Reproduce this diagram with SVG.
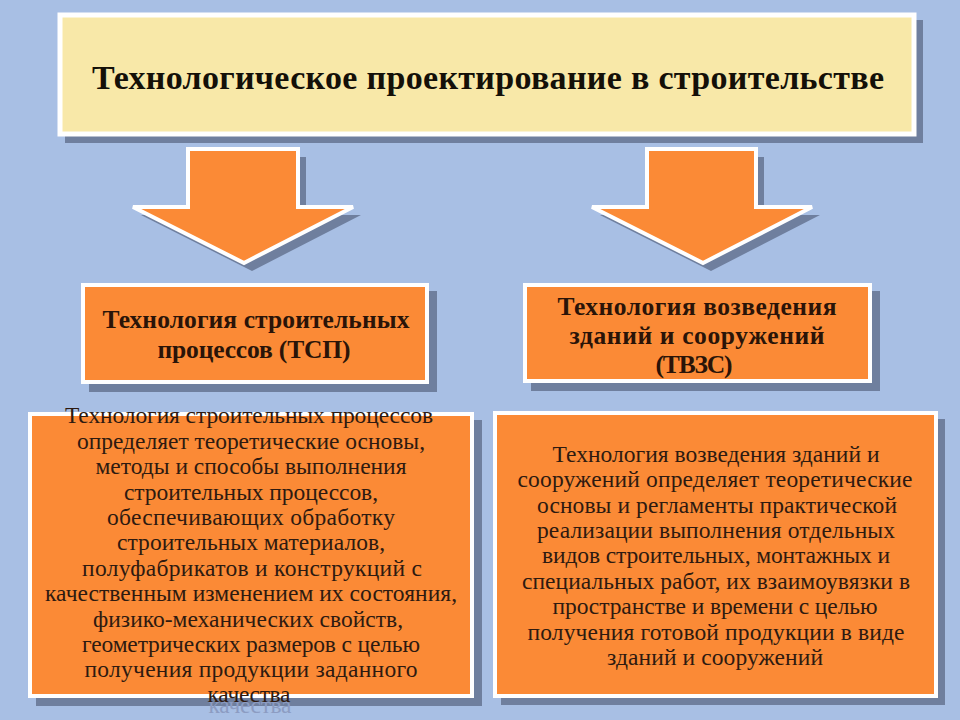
<svg xmlns="http://www.w3.org/2000/svg" width="960" height="720" viewBox="0 0 960 720">
<style>
.sh{fill:#6F7F9E}
.box{fill:#FB8A36;stroke:#FFFFFF;stroke-width:4}
.title{fill:#F8E8A8;stroke:#FFFFFF;stroke-width:5}
.t{font-family:"Liberation Serif",serif;text-anchor:middle}
.h{font-size:34px;font-weight:bold;fill:#141008}
.m{font-size:25.5px;font-weight:bold;fill:#2A1408}
.b{font-size:23.5px;fill:#2E1A10}
</style>
<rect width="960" height="720" fill="#A8BFE4"/>
<g id="title">
<rect class="sh" x="65" y="20" width="858" height="123"/>
<rect class="title" x="60" y="15" width="854" height="119"/>
<text class="t h" x="488" y="89" textLength="792">Технологическое проектирование в строительстве</text>
</g>
<g id="connectors">
<polygon class="sh" points="196,157 306,157 306,215 361,215 252,271 141,215 196,215"/>
<polygon fill="#FB8A36" stroke="#FFFFFF" stroke-width="4" stroke-linejoin="miter" points="188,149 298,149 298,207 353,207 244,263 133,207 188,207"/>
<polygon class="sh" points="655,157 764,157 764,215 820,215 711,271 600,215 655,215"/>
<polygon fill="#FB8A36" stroke="#FFFFFF" stroke-width="4" stroke-linejoin="miter" points="647,149 756,149 756,207 812,207 703,263 592,207 647,207"/>
</g>
<g id="tsp">
<rect class="sh" x="89" y="291" width="348" height="101"/>
<rect class="box" x="83" y="285" width="344" height="97"/>
<text class="t m" x="256" y="328" textLength="307">Технология строительных</text>
<text class="t m" x="254" y="358" textLength="193">процессов (ТСП)</text>
</g>
<g id="tvzs">
<rect class="sh" x="531" y="291" width="349" height="100"/>
<rect class="box" x="525" y="285" width="345" height="96"/>
<text class="t m" x="697" y="315" textLength="279">Технология возведения</text>
<text class="t m" x="697" y="344" textLength="255">зданий и сооружений</text>
<text class="t m" x="694" y="373" textLength="77">(ТВЗС)</text>
</g>
<g id="tsp-desc">
<rect class="sh" x="36" y="420" width="446" height="286"/>
<rect class="box" x="30" y="414" width="442" height="282"/>
<text class="t b" x="250" y="713" style="fill:#8C9CC2" textLength="83">качества</text>
<text class="t b" x="249" y="423" textLength="368">Технология строительных процессов</text>
<text class="t b" x="251" y="449" textLength="348">определяет теоретические основы,</text>
<text class="t b" x="251" y="474" textLength="311">методы и способы выполнения</text>
<text class="t b" x="251" y="500" textLength="254">строительных процессов,</text>
<text class="t b" x="251" y="525" textLength="288">обеспечивающих  обработку</text>
<text class="t b" x="251" y="550" textLength="268">строительных материалов,</text>
<text class="t b" x="252" y="576" textLength="340">полуфабрикатов и конструкций с</text>
<text class="t b" x="251" y="601" textLength="412">качественным изменением их состояния,</text>
<text class="t b" x="248" y="627" textLength="310">физико-механических свойств,</text>
<text class="t b" x="251" y="652" textLength="338">геометрических размеров с целью</text>
<text class="t b" x="251" y="677" textLength="333">получения продукции заданного</text>
<text class="t b" x="249" y="702" textLength="83">качества</text>
</g>
<g id="tvzs-desc">
<rect class="sh" x="501" y="419" width="444" height="286"/>
<rect class="box" x="495" y="413" width="441" height="283"/>
<text class="t b" x="716" y="462" textLength="327">Технология возведения зданий и</text>
<text class="t b" x="715" y="487" textLength="395">сооружений определяет теоретические</text>
<text class="t b" x="717" y="513" textLength="360">основы и регламенты практической</text>
<text class="t b" x="716" y="538" textLength="358">реализации выполнения отдельных</text>
<text class="t b" x="716" y="563" textLength="348">видов строительных, монтажных и</text>
<text class="t b" x="716" y="589" textLength="388">специальных работ, их взаимоувязки в</text>
<text class="t b" x="715" y="614" textLength="325">пространстве и времени с целью</text>
<text class="t b" x="716" y="640" textLength="377">получения готовой продукции в виде</text>
<text class="t b" x="715" y="665" textLength="216">зданий и сооружений</text>
</g>
</svg>
